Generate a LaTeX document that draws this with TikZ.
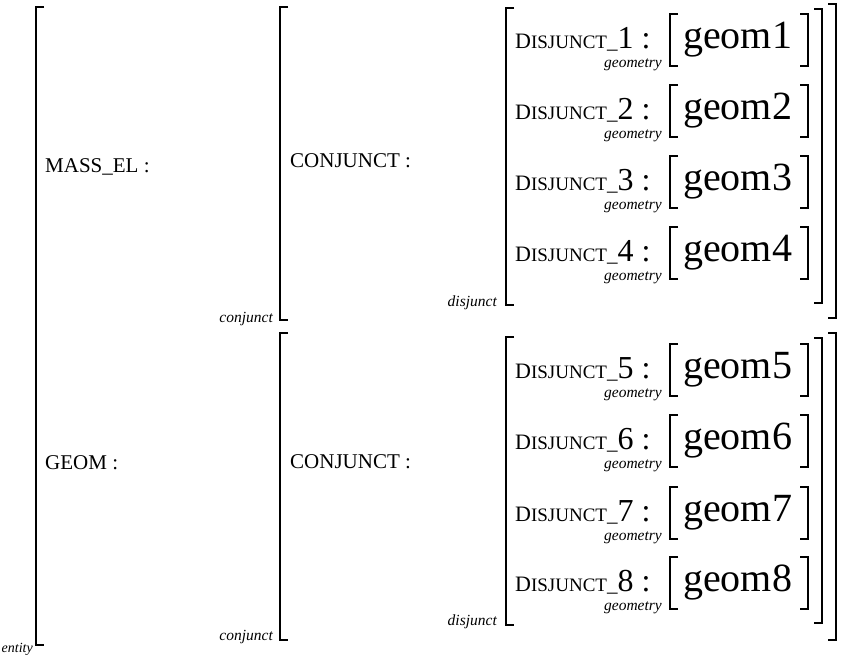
\documentclass[tikz,border=0pt]{standalone}
\usepackage{fontspec}
\setmainfont{Liberation Serif}
\tikzset{
  brk/.style={line width=2pt, line join=miter},
  key/.style={anchor=base west, inner sep=0pt, font=\fontsize{21}{24}\selectfont},
  tag/.style={anchor=base east, inner sep=0pt, font=\fontsize{15.5}{18}\selectfont\itshape},
  val/.style={anchor=base west, inner sep=0pt, font=\fontsize{40}{46}\selectfont},
}
% square brackets: x, top y, bottom y
\newcommand\openbrk[3]{\draw[brk] (#1+8,#2) -- (#1,#2) -- (#1,#3) -- (#1+8,#3);}
\newcommand\closebrk[3]{\draw[brk] (#1-8,#2) -- (#1,#2) -- (#1,#3) -- (#1-8,#3);}
% small-caps style feature name with a full-size index
\newcommand\disjkey[1]{{\fontsize{22}{24}\selectfont D}{\fontsize{19}{24}\selectfont ISJUNCT}\_{\fontsize{32}{36}\selectfont #1~:}}
\begin{document}
\begin{tikzpicture}[x=1pt,y=-1pt]
  \useasboundingbox (0,0) rectangle (847,656);
  \fill[white] (0,0) rectangle (847,656);

  % entity
  \openbrk{36}{7}{645}
  \node[tag, font=\fontsize{14}{16}\selectfont\itshape] (entity) at (33,652) {entity};
  \node[key] (mass) at (45,172) {MASS\_EL~:};
  \node[key] (geom) at (45,469) {GEOM~:};

  % conjuncts
  \openbrk{280}{7}{320}
  \node[tag] (cj1) at (273,322) {conjunct};
  \node[key] (cjk1) at (290,167) {CONJUNCT~:};
  \closebrk{836}{4}{318}

  \openbrk{280}{333}{640}
  \node[tag] (cj2) at (273,640) {conjunct};
  \node[key] (cjk2) at (290,468) {CONJUNCT~:};
  \closebrk{836}{333}{640}

  % disjuncts
  \openbrk{506}{8}{305}
  \node[tag] (dj1) at (497,306) {disjunct};
  \closebrk{822}{9}{303}

  \openbrk{506}{337}{625}
  \node[tag] (dj2) at (497,625) {disjunct};
  \closebrk{822}{338}{623}

  % geometry values
  \foreach \k/\b in {1/48,2/119,3/190,4/261,5/378,6/449,7/521,8/591}{
    \node[key] (d\k) at (515,\b) {\disjkey{\k}};
    \node[tag] (g\k) at (662,\b+19) {geometry};
    \node[val] (v\k) at (683,\b) {geom\k};
    \openbrk{670}{\b-34}{\b+18}
    \closebrk{808}{\b-34}{\b+18}
  }
\end{tikzpicture}
\end{document}
